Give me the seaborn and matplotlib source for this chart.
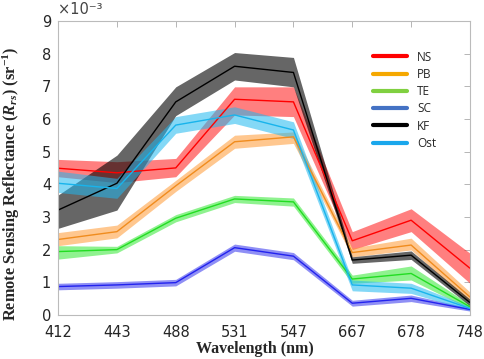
import numpy as np
import pandas as pd
import seaborn as sns
import matplotlib.pyplot as plt
from matplotlib.lines import Line2D

# wavelengths (nm), shown as evenly spaced categories
wavelengths = ['412', '443', '488', '531', '547', '667', '678', '748']

# Rrs values in units of 1e-3 sr^-1: mean, lower and upper band edges
ns_mean = [4.49, 4.35, 4.50, 6.60, 6.52, 2.27, 2.90, 1.43]
ns_lo = [4.23, 4.05, 4.23, 6.12, 6.07, 2.00, 2.55, 0.97]
ns_hi = [4.76, 4.69, 4.79, 6.98, 6.98, 2.55, 3.25, 1.89]

pb_mean = [2.31, 2.55, 3.95, 5.30, 5.45, 1.91, 2.14, 0.55]
pb_lo = [2.12, 2.36, 3.78, 5.10, 5.25, 1.78, 1.99, 0.40]
pb_hi = [2.52, 2.75, 4.12, 5.50, 5.60, 2.05, 2.35, 0.70]

te_mean = [1.94, 2.00, 2.96, 3.55, 3.46, 1.10, 1.27, 0.25]
te_lo = [1.71, 1.90, 2.85, 3.44, 3.33, 0.97, 1.07, 0.18]
te_hi = [2.12, 2.10, 3.07, 3.66, 3.58, 1.22, 1.50, 0.32]

sc_mean = [0.87, 0.92, 0.99, 2.06, 1.80, 0.36, 0.51, 0.17]
sc_lo = [0.77, 0.82, 0.89, 1.95, 1.69, 0.27, 0.41, 0.12]
sc_hi = [0.97, 1.02, 1.09, 2.17, 1.91, 0.45, 0.61, 0.22]

kf_mean = [3.21, 4.03, 6.52, 7.61, 7.42, 1.68, 1.83, 0.38]
kf_lo = [2.65, 3.21, 6.10, 7.19, 6.98, 1.58, 1.70, 0.28]
kf_hi = [3.67, 4.89, 6.98, 8.03, 7.88, 1.78, 1.96, 0.48]

ost_mean = [4.03, 3.87, 5.81, 6.12, 5.66, 0.92, 0.82, 0.20]
ost_lo = [3.75, 3.57, 5.56, 5.86, 5.40, 0.74, 0.66, 0.14]
ost_hi = [4.40, 4.18, 6.07, 6.37, 5.91, 1.07, 0.97, 0.26]

sites = ['NS', 'PB', 'TE', 'SC', 'KF', 'Ost']
means = [ns_mean, pb_mean, te_mean, sc_mean, kf_mean, ost_mean]
lows = [ns_lo, pb_lo, te_lo, sc_lo, kf_lo, ost_lo]
highs = [ns_hi, pb_hi, te_hi, sc_hi, kf_hi, ost_hi]

line_colors = ['#ff0000', '#f08c1e', '#22dd22', '#2222ee', '#000000', '#18b4ec']
fill_colors = ['#ff0000', '#ff9a33', '#33e833', '#3333ee', '#000000', '#20b8f0']
fill_alpha = [0.5, 0.55, 0.55, 0.55, 0.6, 0.55]
legend_colors = ['#ff0000', '#f5a800', '#80d040', '#4472c4', '#000000', '#1aa7ec']

# long format table for seaborn
rows = []
for s, m in zip(sites, means):
    for i, v in enumerate(m):
        rows.append({'site': s, 'x': i, 'rrs': v})
df = pd.DataFrame(rows)

sns.set_theme(style='white')
plt.rcParams['font.family'] = ['DejaVu Sans']
plt.rcParams['mathtext.fontset'] = 'custom'
plt.rcParams['mathtext.rm'] = 'Liberation Serif:bold'
plt.rcParams['mathtext.it'] = 'Liberation Serif:italic:bold'
plt.rcParams['mathtext.bf'] = 'Liberation Serif:bold'

fig = plt.figure(figsize=(4.84, 3.59), dpi=100)
ax = fig.add_axes([0.12, 0.1226, 0.851, 0.8194])

x = np.arange(len(wavelengths))
for lo, hi, c, a in zip(lows, highs, fill_colors, fill_alpha):
    ax.fill_between(x, lo, hi, color=c, alpha=a, linewidth=0)

sns.lineplot(data=df, x='x', y='rrs', hue='site', hue_order=sites,
             palette=line_colors, linewidth=1, legend=False, ax=ax)

ax.set_xlim(0, 7)
ax.set_ylim(0, 9)
ax.set_xticks(x)
ax.set_xticklabels(wavelengths)
ax.set_yticks(np.arange(0, 10))

ax.tick_params(direction='in', length=4, top=True, right=True,
               labelsize=10.5, labelcolor='#262626', color='#aaaaaa', width=0.6)
ax.tick_params(axis='x', pad=7)
ax.tick_params(axis='y', pad=5)
for sp in ax.spines.values():
    sp.set_color('#bbbbbb')
    sp.set_linewidth(0.8)

# exponent label in the top-left corner
ax.text(0.0, 1.012, '×10⁻³', transform=ax.transAxes, ha='left', va='bottom',
        fontsize=10.5, color='#444444')

ax.set_xlabel('Wavelength (nm)', family='Liberation Serif', fontweight='bold',
              fontsize=11.5)
ax.xaxis.set_label_coords(0.478, -0.09)
ax.set_ylabel(r'Remote Sensing Reflectance ($R_{rs}$) (sr$^{-1}$)',
              family='Liberation Serif', fontweight='bold', fontsize=11.8)
ax.yaxis.set_label_coords(-0.088, 0.445)

handles = [Line2D([0], [0], color=c, lw=3) for c in legend_colors]
ax.legend(handles, sites, loc='upper left', bbox_to_anchor=(0.74, 0.935),
          frameon=False, labelspacing=0.36, handlelength=2.8,
          handletextpad=0.9, prop={'family': 'Open Sans', 'size': 8.5})

fig.savefig('out.png', dpi=100)
